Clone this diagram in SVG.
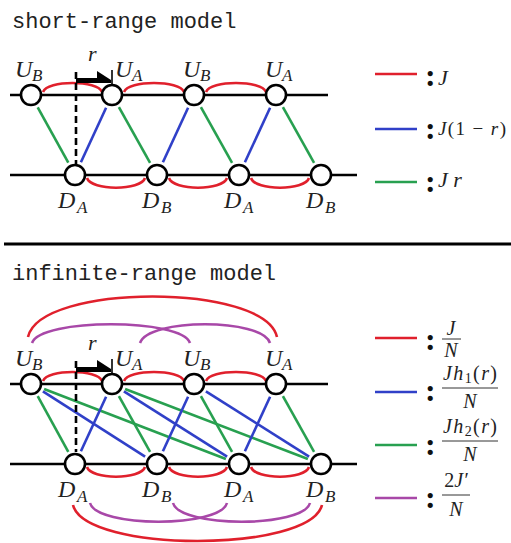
<svg xmlns="http://www.w3.org/2000/svg" width="511" height="543" viewBox="0 0 511 543">
<style>
.title{font-size:22px;fill:#222}
.m{font-style:italic;fill:#222}
.lbl{font-size:24px}
.sub{font-size:17px}
.up{font-style:normal}
.colon{font-weight:bold;font-size:32px;fill:#111}
.node{fill:#fff;stroke:#000;stroke-width:2.6}
.axis{stroke:#000;stroke-width:2.6;fill:none}
.r{stroke:#e0202c;stroke-width:2.6;fill:none}
.b{stroke:#3040c8;stroke-width:2.6;fill:none}
.g{stroke:#28a050;stroke-width:2.6;fill:none}
.p{stroke:#a848a8;stroke-width:2.6;fill:none}
.dash{stroke:#000;stroke-width:2.6;stroke-dasharray:7,4}
.bar{stroke:#333;stroke-width:1}
</style>

<text class="title" font-family="Liberation Mono, Courier New, DejaVu Sans Mono, monospace" x="12" y="28">short-range model</text>
<text class="title" font-family="Liberation Mono, Courier New, DejaVu Sans Mono, monospace" x="12" y="280">infinite-range model</text>
<line x1="4" y1="244" x2="511" y2="244" stroke="#000" stroke-width="3"/>

<g font-family="Liberation Serif, Times New Roman, DejaVu Serif, serif">
<!-- ===== short-range ===== -->
<g id="sr-axes">
<line class="axis" x1="10" y1="95" x2="328" y2="95"/>
<line class="axis" x1="10" y1="175" x2="357" y2="175"/>
</g>
<g id="sr-connectors">
<path class="r" d="M43,92 C47,80 98,80 102,92"/>
<path class="r" d="M124,92 C128,80 180,80 184,92"/>
<path class="r" d="M206,92 C210,80 262,80 266,92"/>
<path class="r" d="M87,178 C91,191 141,191 145,178"/>
<path class="r" d="M169,178 C173,191 223,191 227,178"/>
<path class="r" d="M251,178 C255,191 305,191 309,178"/>
<line class="g" x1="37.7" y1="107.3" x2="68.3" y2="162.7"/>
<line class="g" x1="118.9" y1="107.2" x2="150.1" y2="162.8"/>
<line class="g" x1="200.9" y1="107.2" x2="232.1" y2="162.8"/>
<line class="g" x1="282.9" y1="107.2" x2="314.1" y2="162.8"/>
<line class="b" x1="80.9" y1="162.3" x2="106.1" y2="107.7"/>
<line class="b" x1="162.9" y1="162.3" x2="188.1" y2="107.7"/>
<line class="b" x1="244.9" y1="162.3" x2="270.1" y2="107.7"/>
</g>
<g id="sr-offset">
<line class="dash" x1="76" y1="72" x2="76" y2="164"/>
<line x1="76" y1="80.5" x2="100" y2="80.5" stroke="#000" stroke-width="5"/>
<polygon points="97,71 111,80 111,83 97,83" fill="#000"/>
<line x1="112" y1="70" x2="112" y2="84" stroke="#000" stroke-width="1.6"/>
<text class="m" x="88" y="61" font-size="22">r</text>
</g>
<g id="sr-UB0"><circle class="node" cx="31" cy="95" r="10"/><text class="m lbl" x="15" y="77">U</text><text class="m sub" x="32" y="81">B</text></g>
<g id="sr-UA1"><circle class="node" cx="112" cy="95" r="10"/><text class="m lbl" x="115" y="77">U</text><text class="m sub" x="132" y="81">A</text></g>
<g id="sr-UB2"><circle class="node" cx="194" cy="95" r="10"/><text class="m lbl" x="183" y="77">U</text><text class="m sub" x="200" y="81">B</text></g>
<g id="sr-UA3"><circle class="node" cx="276" cy="95" r="10"/><text class="m lbl" x="265" y="77">U</text><text class="m sub" x="282" y="81">A</text></g>
<g id="sr-DA0"><circle class="node" cx="75" cy="175" r="10"/><text class="m lbl" x="58" y="208">D</text><text class="m sub" x="77" y="213">A</text></g>
<g id="sr-DB1"><circle class="node" cx="157" cy="175" r="10"/><text class="m lbl" x="142" y="208">D</text><text class="m sub" x="161" y="213">B</text></g>
<g id="sr-DA2"><circle class="node" cx="239" cy="175" r="10"/><text class="m lbl" x="224" y="208">D</text><text class="m sub" x="243" y="213">A</text></g>
<g id="sr-DB3"><circle class="node" cx="321" cy="175" r="10"/><text class="m lbl" x="306" y="208">D</text><text class="m sub" x="325" y="213">B</text></g>

<g id="sr-legend">
<line class="r" x1="375" y1="74" x2="417" y2="74"/>
<text class="colon" x="425" y="86">:</text>
<text class="m" x="438" y="85" font-size="22">J</text>
<line class="b" x1="375" y1="129" x2="417" y2="129"/>
<text class="colon" x="425" y="139">:</text>
<text class="m" x="438" y="135" font-size="19" textLength="68" lengthAdjust="spacing">J<tspan class="up">(1 − </tspan>r<tspan class="up">)</tspan></text>
<line class="g" x1="375" y1="182" x2="417" y2="182"/>
<text class="colon" x="425" y="192">:</text>
<text class="m" x="438" y="187" font-size="22">J r</text>
</g>

<!-- ===== infinite-range ===== -->
<g id="ir-axes">
<line class="axis" x1="10" y1="384" x2="328" y2="384"/>
<line class="axis" x1="10" y1="464" x2="357" y2="464"/>
</g>
<g id="ir-connectors">
<path class="r" d="M43,381 C47,369 98,369 102,381"/>
<path class="r" d="M124,381 C128,369 180,369 184,381"/>
<path class="r" d="M206,381 C210,369 262,369 266,381"/>
<path class="r" d="M87,467 C91,480 141,480 145,467"/>
<path class="r" d="M169,467 C173,480 223,480 227,467"/>
<path class="r" d="M251,467 C255,480 305,480 309,467"/>
<path class="r" d="M28,337 C40,283 265,283 277,337"/>
<path class="p" d="M32,343 C40,318 182,318 190,343"/>
<path class="p" d="M140,343 C148,318 262,318 270,343"/>
<path class="r" d="M73,505 C85,553 310,553 322,505"/>
<path class="p" d="M90,503 C97,528 220,528 227,503"/>
<path class="p" d="M173,503 C180,528 303,528 310,503"/>
<line class="g" x1="37.7" y1="396.2" x2="68.3" y2="451.8"/>
<line class="b" x1="42.9" y1="391.4" x2="145.1" y2="456.6"/>
<line class="g" x1="44.1" y1="389" x2="225.9" y2="459"/>
<line class="b" x1="106.1" y1="396.7" x2="80.9" y2="451.3"/>
<line class="g" x1="118.9" y1="396.2" x2="150.1" y2="451.8"/>
<line class="b" x1="123.9" y1="391.4" x2="227.1" y2="456.6"/>
<line class="g" x1="125.1" y1="389" x2="307.9" y2="459"/>
<line class="b" x1="188.1" y1="396.7" x2="162.9" y2="451.3"/>
<line class="g" x1="200.9" y1="396.2" x2="232.1" y2="451.8"/>
<line class="b" x1="205.9" y1="391.4" x2="309.1" y2="456.6"/>
<line class="b" x1="270.1" y1="396.7" x2="244.9" y2="451.3"/>
<line class="g" x1="282.9" y1="396.2" x2="314.1" y2="451.8"/>
</g>
<g id="ir-offset">
<line class="dash" x1="76" y1="361" x2="76" y2="452"/>
<line x1="76" y1="369.5" x2="100" y2="369.5" stroke="#000" stroke-width="5"/>
<polygon points="97,360 111,369 111,372 97,372" fill="#000"/>
<line x1="112" y1="359" x2="112" y2="373" stroke="#000" stroke-width="1.6"/>
<text class="m" x="88" y="350" font-size="22">r</text>
</g>
<g id="ir-UB0"><circle class="node" cx="31" cy="384" r="10"/><text class="m lbl" x="15" y="366">U</text><text class="m sub" x="32" y="370">B</text></g>
<g id="ir-UA1"><circle class="node" cx="112" cy="384" r="10"/><text class="m lbl" x="115" y="366">U</text><text class="m sub" x="132" y="370">A</text></g>
<g id="ir-UB2"><circle class="node" cx="194" cy="384" r="10"/><text class="m lbl" x="183" y="366">U</text><text class="m sub" x="200" y="370">B</text></g>
<g id="ir-UA3"><circle class="node" cx="276" cy="384" r="10"/><text class="m lbl" x="265" y="366">U</text><text class="m sub" x="282" y="370">A</text></g>
<g id="ir-DA0"><circle class="node" cx="75" cy="464" r="10"/><text class="m lbl" x="58" y="497">D</text><text class="m sub" x="77" y="502">A</text></g>
<g id="ir-DB1"><circle class="node" cx="157" cy="464" r="10"/><text class="m lbl" x="142" y="497">D</text><text class="m sub" x="161" y="502">B</text></g>
<g id="ir-DA2"><circle class="node" cx="239" cy="464" r="10"/><text class="m lbl" x="224" y="497">D</text><text class="m sub" x="243" y="502">A</text></g>
<g id="ir-DB3"><circle class="node" cx="321" cy="464" r="10"/><text class="m lbl" x="306" y="497">D</text><text class="m sub" x="325" y="502">B</text></g>

<g id="ir-legend">
<line class="r" x1="375" y1="338" x2="417" y2="338"/>
<text class="colon" x="425" y="350">:</text>
<text class="m" x="451" y="335" font-size="20" text-anchor="middle">J</text>
<line class="bar" x1="442" y1="339" x2="461" y2="339"/>
<text class="m" x="451" y="357" font-size="20" text-anchor="middle">N</text>

<line class="b" x1="375" y1="392" x2="417" y2="392"/>
<text class="colon" x="425" y="401">:</text>
<text class="m" x="443" y="380" font-size="20" textLength="54" lengthAdjust="spacing">Jh<tspan class="up" font-size="14" dy="3">1</tspan><tspan class="up" dy="-3">(</tspan>r<tspan class="up">)</tspan></text>
<line class="bar" x1="442" y1="388" x2="498" y2="388"/>
<text class="m" x="470" y="408" font-size="20" text-anchor="middle">N</text>

<line class="g" x1="375" y1="445" x2="417" y2="445"/>
<text class="colon" x="425" y="455">:</text>
<text class="m" x="443" y="433" font-size="20" textLength="54" lengthAdjust="spacing">Jh<tspan class="up" font-size="14" dy="3">2</tspan><tspan class="up" dy="-3">(</tspan>r<tspan class="up">)</tspan></text>
<line class="bar" x1="442" y1="441" x2="498" y2="441"/>
<text class="m" x="470" y="461" font-size="20" text-anchor="middle">N</text>

<line class="p" x1="375" y1="498" x2="417" y2="498"/>
<text class="colon" x="425" y="508">:</text>
<text class="m" x="456" y="487" font-size="20" text-anchor="middle"><tspan class="up">2</tspan>J′</text>
<line class="bar" x1="442" y1="495" x2="470" y2="495"/>
<text class="m" x="456" y="516" font-size="20" text-anchor="middle">N</text>
</g>
</g>
</svg>
